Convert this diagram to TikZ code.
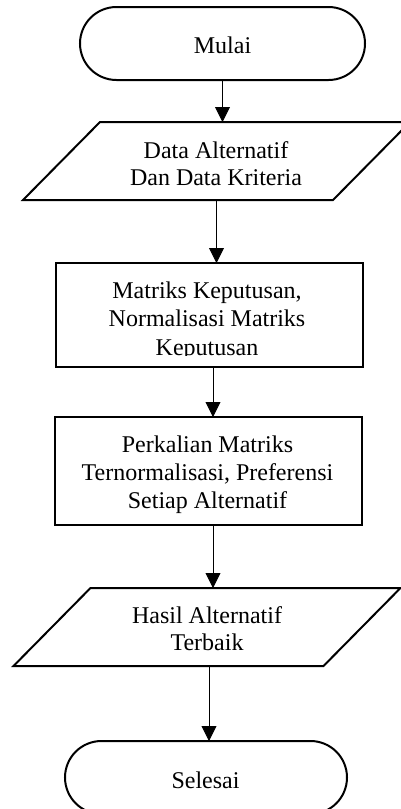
\documentclass[tikz,border=0pt]{standalone}
\usepackage{fontspec}
\setmainfont{Liberation Serif}
\usetikzlibrary{shapes.misc,arrows.meta}
\tikzset{
  shapeline/.style={draw=black,line width=2pt,inner sep=0pt,outer sep=0pt},
  term/.style={shapeline,rounded rectangle,rounded rectangle arc length=180,minimum height=73pt},
  io/.style={shapeline,rectangle,xslant=0.987,minimum height=78pt,minimum width=310pt},
  proc/.style={shapeline,rectangle,minimum width=307pt},
  label/.style={inner sep=0pt,outer sep=0pt,anchor=base,align=center,font=\fontsize{24}{28}\selectfont},
  arr/.style={draw=black,line width=0.9pt,-{Triangle[width=15pt,length=15pt]}}
}
\begin{document}
\begin{tikzpicture}[x=1pt,y=-1pt]
\useasboundingbox (0,0) rectangle (400,809);
% shapes
\node[term,minimum width=285pt] (start) at (222.5,43.5) {};
\node[io] (in) at (216.5,161) {};
\node[proc,minimum height=104pt] (p1) at (209.5,315) {};
\node[proc,minimum height=108pt] (p2) at (208.5,471) {};
\node[io] (out) at (207,627) {};
\node[term,minimum width=282pt] (end) at (206,777.5) {};
% texts (anchor base = baseline of the last line)
\node[label] (tstart) at (222.5,53) {Mulai};
\node[label,font=\fontsize{24}{27}\selectfont] (tin) at (216,185) {Data Alternatif\\Dan Data Kriteria};
\begin{scope}
\clip (57,264) rectangle (362,355.5);
\node[label,font=\fontsize{24}{28.5}\selectfont] (tp1) at (207,355) {Matriks Keputusan,\\Normalisasi Matriks\\Keputusan};
\end{scope}
\node[label] (tp2) at (207.5,508) {Perkalian Matriks\\Ternormalisasi, Preferensi\\Setiap Alternatif};
\node[label,font=\fontsize{24}{27}\selectfont] (tout) at (207,650) {Hasil Alternatif\\Terbaik};
\node[label] (tend) at (205.5,788) {Selesai};
% connectors
\draw[arr] (start.south) -- (start.south |- in.north);
\draw[arr] (in.center |- in.south) -- (in.center |- p1.north);
\draw[arr] ([xshift=3.5pt]p1.south) -- ([xshift=3.5pt]p1.south |- p2.north);
\draw[arr] ([xshift=4.5pt]p2.south) -- ([xshift=4.5pt]p2.south |- out.north);
\draw[arr] ([xshift=2pt]out.center |- out.south) -- ([xshift=2pt]out.center |- end.north);
\end{tikzpicture}
\end{document}
